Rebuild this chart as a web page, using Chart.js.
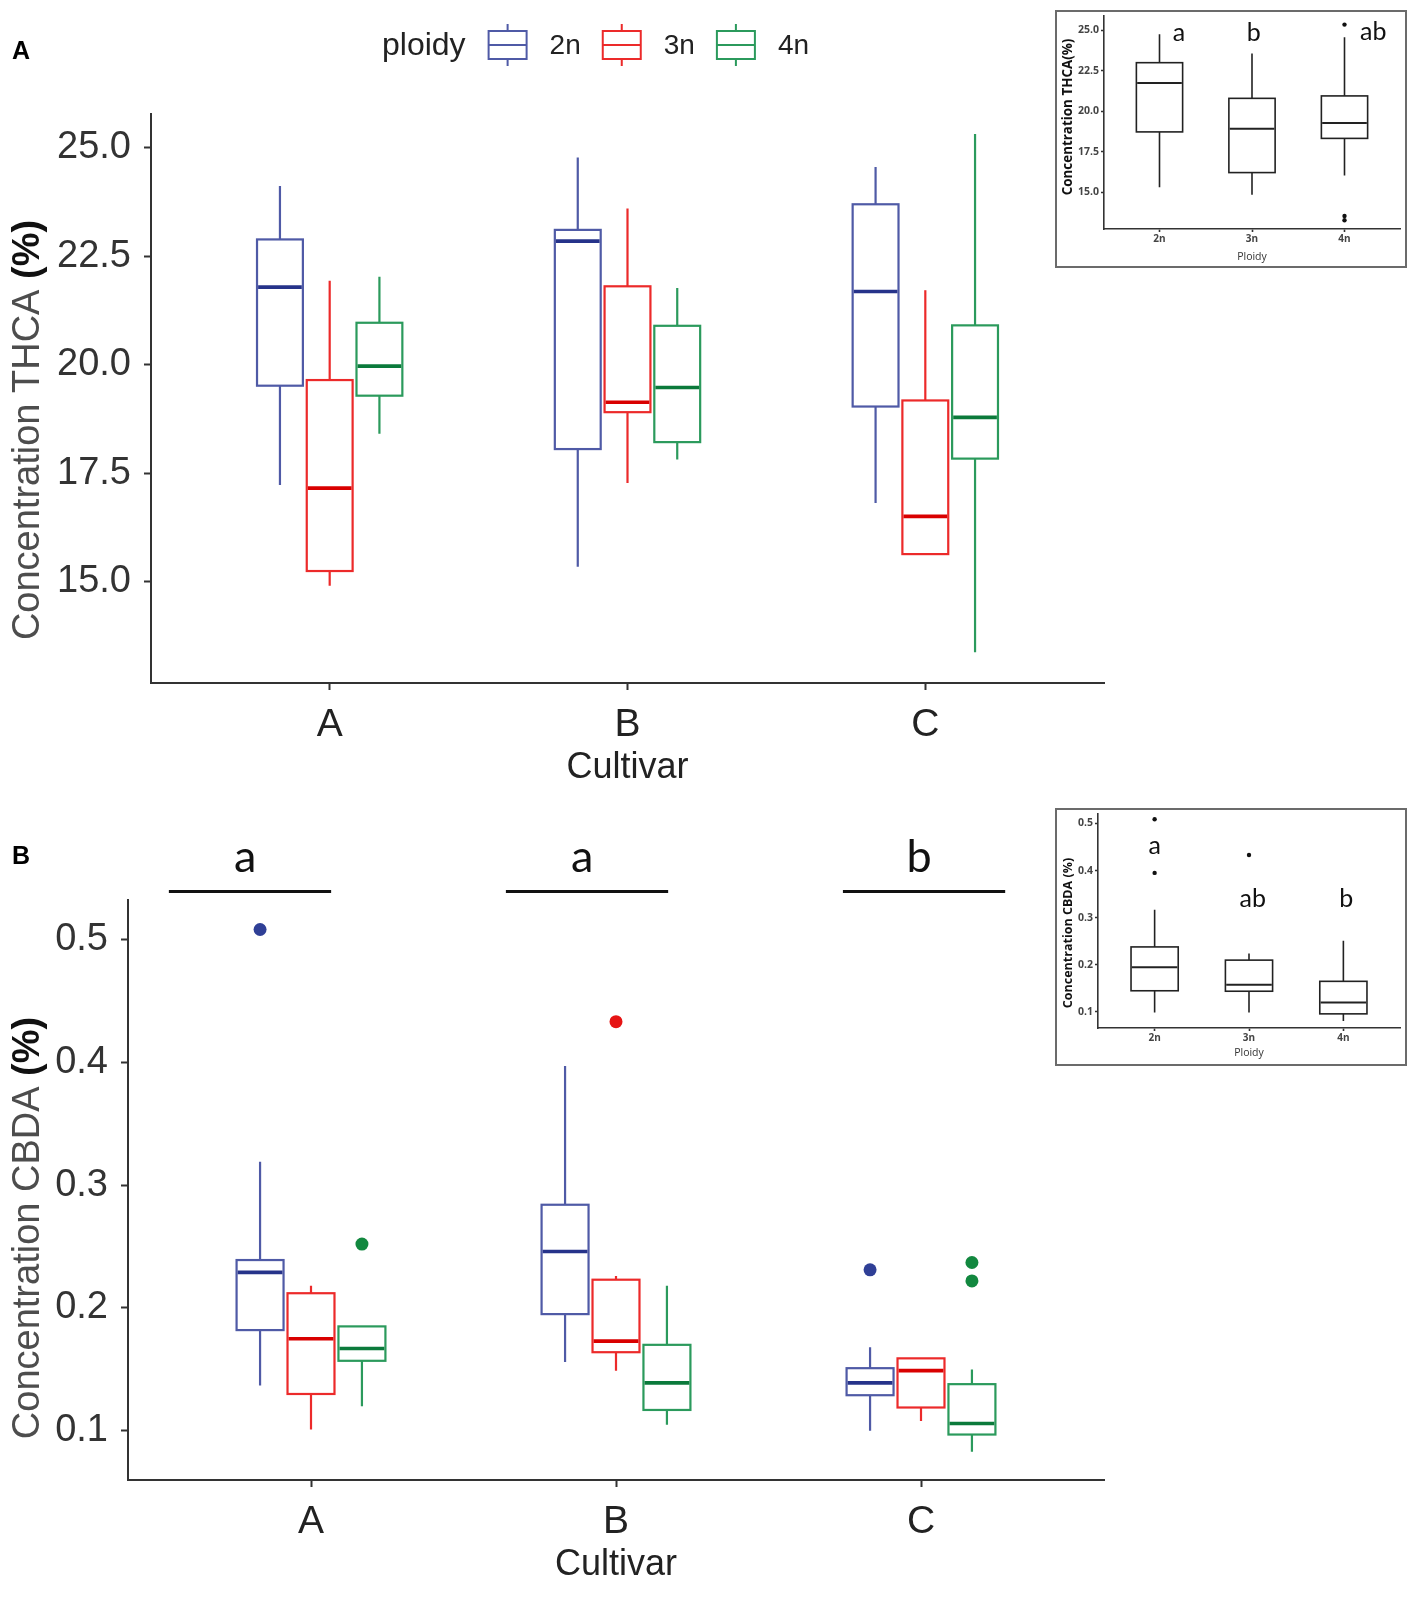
<!DOCTYPE html>
<html>
<head>
<meta charset="utf-8">
<script src="https://cdn.jsdelivr.net/npm/chart.js@4.4.0/dist/chart.umd.min.js"></script>
<style>
    body { margin: 0; background: #fff; width: 1417px; height: 1599px; position: relative; overflow: hidden; }
    canvas { position: absolute; }
    .inset { position: absolute; border: 2px solid #6b6b6b; background: #fff; }
</style>
</head>
<body>
<canvas id="thcaChart" width="1122" height="805" style="left:0;top:0"></canvas>
<canvas id="cbdaChart" width="1122" height="794" style="left:0;top:805px"></canvas>
<div class="inset" style="left:1055px;top:10px;width:348px;height:254px"><canvas id="thcaInset" width="348" height="254" style="left:0;top:0"></canvas></div>
<div class="inset" style="left:1055px;top:808px;width:348px;height:254px"><canvas id="cbdaInset" width="348" height="254" style="left:0;top:0"></canvas></div>
<script>
const cultivars = ['A', 'B', 'C'];
const ploidyLevels = ['2n', '3n', '4n'];
const thcaTicks = [15, 17.5, 20, 22.5, 25];
const cbdaTicks = [0.1, 0.2, 0.3, 0.4, 0.5];

// [lower whisker, Q1, median, Q3, upper whisker] for cultivar A, B, C
const thca2n = [[17.23, 19.52, 21.79, 22.89, 24.12], [15.35, 18.06, 22.85, 23.11, 24.78], [16.82, 19.04, 21.69, 23.70, 24.56]];
const thca3n = [[14.91, 15.25, 17.16, 19.65, 21.94], [17.28, 18.91, 19.14, 21.81, 23.60], [15.64, 15.64, 16.51, 19.18, 21.72]];
const thca4n = [[18.41, 19.29, 19.97, 20.97, 22.03], [17.82, 18.22, 19.48, 20.90, 21.77], [13.38, 17.84, 18.79, 20.91, 25.32]];

const cbda2n = [[0.137, 0.182, 0.229, 0.239, 0.319], [0.156, 0.195, 0.246, 0.284, 0.397], [0.100, 0.129, 0.139, 0.151, 0.168]];
const cbda3n = [[0.101, 0.130, 0.175, 0.212, 0.218], [0.149, 0.164, 0.173, 0.223, 0.226], [0.108, 0.119, 0.149, 0.159, 0.159]];
const cbda4n = [[0.120, 0.157, 0.167, 0.185, 0.185], [0.105, 0.117, 0.139, 0.170, 0.218], [0.083, 0.097, 0.106, 0.138, 0.150]];
// outliers, per cultivar
const cbdaOut2n = [[0.508], [], [0.231]];
const cbdaOut3n = [[], [0.433], []];
const cbdaOut4n = [[0.252], [], [0.237, 0.222]];
const cbdaLetters = ['a', 'a', 'b'];

// insets: pooled by ploidy
const thcaPooled = [[15.30, 18.72, 21.74, 22.99, 24.74], [14.84, 16.21, 18.92, 20.79, 23.55], [16.03, 18.32, 19.27, 20.94, 24.56]];
const thcaPooledOut = [[], [], [25.34, 13.53, 13.27]];
const thcaPooledLetters = ['a', 'b', 'ab'];
const cbdaPooled = [[0.099, 0.145, 0.195, 0.238, 0.317], [0.099, 0.144, 0.158, 0.210, 0.224], [0.081, 0.096, 0.120, 0.165, 0.251]];
const cbdaPooledOut = [[0.509, 0.395], [0.433], []];
const cbdaPooledLetters = ['a', 'ab', 'b'];

const boxColors = ['#4f5aa6', '#ec2a2a', '#2b9a5c'];
const medianColors = ['#26338a', '#d90000', '#0b7a3b'];
const pointColors = ['#2f3f96', '#e61414', '#12883f'];
const SANS = '"Liberation Sans", Arial, sans-serif';
const OPEN = '"Open Sans", sans-serif';
const DODGE = [-0.167, 0, 0.167];

// draws whiskers, boxes and medians through the chart scales
const boxPlugin = {
    id: 'boxes',
    beforeDatasetsDraw(chart, args, o) {
        const { ctx, scales: { x, y } } = chart;
        o.series.forEach((stats, s) => {
            stats.forEach((st, i) => {
                const pos = i + 1 + o.dodge[s];
                const cx = x.getPixelForValue(pos);
                const left = x.getPixelForValue(pos - o.half);
                const right = x.getPixelForValue(pos + o.half);
                const [lo, q1, med, q3, hi] = st.map(v => y.getPixelForValue(v));
                ctx.save();
                ctx.strokeStyle = o.colors[s];
                ctx.lineWidth = o.lw;
                ctx.beginPath();
                ctx.moveTo(cx, hi); ctx.lineTo(cx, q3);
                ctx.moveTo(cx, q1); ctx.lineTo(cx, lo);
                ctx.stroke();
                ctx.fillStyle = '#fff';
                ctx.fillRect(left, q3, right - left, q1 - q3);
                ctx.strokeRect(left, q3, right - left, q1 - q3);
                ctx.strokeStyle = o.medianColors[s];
                ctx.lineWidth = o.mw;
                ctx.beginPath();
                ctx.moveTo(left + o.lw / 2, med); ctx.lineTo(right - o.lw / 2, med);
                ctx.stroke();
                ctx.restore();
            });
        });
    }
};

function rotatedText(ctx, parts, x, yc) {
    ctx.save();
    ctx.translate(x, yc);
    ctx.rotate(-Math.PI / 2);
    ctx.textBaseline = 'middle';
    ctx.textAlign = 'left';
    let total = 0;
    parts.forEach(p => { ctx.font = p.font; p.w = ctx.measureText(p.text).width; total += p.w; });
    let cx = -total / 2;
    parts.forEach(p => { ctx.font = p.font; ctx.fillStyle = p.color; ctx.fillText(p.text, cx, 0); cx += p.w; });
    ctx.restore();
}

function text(ctx, str, x, y, font, color, align) {
    ctx.save();
    ctx.font = font;
    ctx.fillStyle = color;
    ctx.textAlign = align || 'center';
    ctx.textBaseline = 'middle';
    ctx.fillText(str, x, y);
    ctx.restore();
}

function outlierData(out, dodge) {
    return out.flatMap((vals, i) => vals.map(v => ({ x: i + 1 + dodge, y: v })));
}

function axisOpts(labels, font, color, tickLen, pad, lineW, size, isX) {
    return {
        type: 'linear',
        afterBuildTicks: axis => { axis.ticks = labels.map(v => ({ value: v })); },
        ticks: {
            font: font, color: color, padding: pad, autoSkip: false, maxRotation: 0,
            callback: isX ? (v => (isX[v - 1])) : (v => Number(v).toFixed(1))
        },
        grid: { drawOnChartArea: false, drawTicks: true, tickLength: tickLen, tickWidth: lineW, tickColor: '#333' },
        border: { display: true, color: '#333', width: lineW },
        afterFit: s => {
            if (isX) { s.height = size; s.paddingLeft = 0; s.paddingRight = 0; }
            else { s.width = size; s.paddingTop = 0; s.paddingBottom = 0; }
        }
    };
}

function mainChart(id, series, outliers, yTicks, yMin, yMax, pad, yWidth, xHeight, deco) {
    const datasets = outliers.map((out, s) => ({
        data: outlierData(out, DODGE[s]),
        pointRadius: 6.5, pointHoverRadius: 6.5,
        backgroundColor: pointColors[s], borderWidth: 0
    }));
    const yAxis = axisOpts(yTicks, { family: SANS, size: 38 }, '#333', 7, 13, 2, yWidth, null);
    yAxis.min = yMin; yAxis.max = yMax;
    const xAxis = axisOpts([1, 2, 3], { family: SANS, size: 39 }, '#222', 7, 12, 2, xHeight, cultivars);
    xAxis.min = 0.4; xAxis.max = 3.6;
    return new Chart(document.getElementById(id), {
        type: 'scatter',
        data: { datasets },
        options: {
            responsive: false, animation: false, devicePixelRatio: 1,
            layout: { padding: pad },
            plugins: {
                legend: { display: false }, tooltip: { enabled: false },
                boxes: { series, dodge: DODGE, half: 0.077, colors: boxColors, medianColors, lw: 2.2, mw: 3.6 }
            },
            scales: { x: xAxis, y: yAxis }
        },
        plugins: [boxPlugin, { id: 'deco', afterDraw: deco }]
    });
}

function insetChart(id, series, outliers, yTicks, yMin, yMax, pad, yWidth, xHeight, deco) {
    const datasets = [{
        data: outlierData(outliers, 0),
        pointRadius: 2.2, backgroundColor: '#111', borderWidth: 0
    }];
    const tickFont = { family: OPEN, size: 10.5, weight: 'bold' };
    const yAxis = axisOpts(yTicks, tickFont, '#444', 3, 2, 1.6, yWidth, null);
    yAxis.min = yMin; yAxis.max = yMax;
    const xAxis = axisOpts([1, 2, 3], { family: OPEN, size: 10, weight: 'bold' }, '#444', 3, 1, 1.6, xHeight, ploidyLevels);
    xAxis.min = 0.4; xAxis.max = 3.6;
    return new Chart(document.getElementById(id), {
        type: 'scatter',
        data: { datasets },
        options: {
            responsive: false, animation: false, devicePixelRatio: 1,
            layout: { padding: pad },
            plugins: {
                legend: { display: false }, tooltip: { enabled: false },
                boxes: { series: series.map(st => [st]), dodge: [0, 1, 2], half: 0.25,
                    colors: ['#222', '#222', '#222'], medianColors: ['#222', '#222', '#222'], lw: 1.6, mw: 2 }
            },
            scales: { x: xAxis, y: yAxis }
        },
        plugins: [boxPlugin, { id: 'deco', afterDraw: deco }]
    });
}

// Panel A
mainChart('thcaChart', [thca2n, thca3n, thca4n], [[], [], []], thcaTicks, 12.67, 25.78,
    { top: 114, right: 18, left: 0, bottom: 0 }, 151, 122, chart => {
        const ctx = chart.ctx;
        text(ctx, 'A', 12, 52, 'bold 25px ' + SANS, '#000', 'left');
        rotatedText(ctx, [
            { text: 'Concentration THCA ', font: '38px ' + SANS, color: '#4d4d4d' },
            { text: '(%)', font: 'bold 38px ' + SANS, color: '#111' }
        ], 29, 430);
        text(ctx, 'Cultivar', chart.scales.x.getPixelForValue(2), 768, '36px ' + SANS, '#222');
        // legend
        let lx = 382;
        ctx.save();
        ctx.font = '32px ' + SANS;
        text(ctx, 'ploidy', lx, 46, '32px ' + SANS, '#222', 'left');
        lx += ctx.measureText('ploidy').width + 23;
        ploidyLevels.forEach((p, s) => {
            ctx.strokeStyle = boxColors[s];
            ctx.lineWidth = 2;
            ctx.beginPath();
            ctx.moveTo(lx + 19, 24); ctx.lineTo(lx + 19, 31);
            ctx.moveTo(lx + 19, 59); ctx.lineTo(lx + 19, 66);
            ctx.stroke();
            ctx.strokeRect(lx, 31, 38, 28);
            ctx.beginPath(); ctx.moveTo(lx, 45); ctx.lineTo(lx + 38, 45); ctx.stroke();
            lx += 38 + 23;
            text(ctx, p, lx, 46, '28px ' + SANS, '#222', 'left');
            ctx.font = '28px ' + SANS;
            lx += ctx.measureText(p).width + 22;
        });
        ctx.restore();
    });

// Panel B
mainChart('cbdaChart', [cbda2n, cbda3n, cbda4n], [cbdaOut2n, cbdaOut3n, cbdaOut4n], cbdaTicks, 0.06, 0.532,
    { top: 95, right: 18, left: 0, bottom: 0 }, 128, 119, chart => {
        const ctx = chart.ctx;
        const { x, y } = chart.scales;
        text(ctx, 'B', 12, 52, 'bold 25px ' + SANS, '#000', 'left');
        rotatedText(ctx, [
            { text: 'Concentration CBDA ', font: '38px ' + SANS, color: '#4d4d4d' },
            { text: '(%)', font: 'bold 38px ' + SANS, color: '#111' }
        ], 29, 423);
        text(ctx, 'Cultivar', x.getPixelForValue(2), 760, '36px ' + SANS, '#222');
        // significance groups above each cultivar
        const centers = [0.80, 1.905, 3.01];
        cbdaLetters.forEach((l, i) => {
            const c = centers[i];
            ctx.save();
            ctx.strokeStyle = '#111';
            ctx.lineWidth = 3;
            ctx.beginPath();
            ctx.moveTo(x.getPixelForValue(c - 0.266), y.getPixelForValue(0.539));
            ctx.lineTo(x.getPixelForValue(c + 0.266), y.getPixelForValue(0.539));
            ctx.stroke();
            ctx.restore();
            text(ctx, l, x.getPixelForValue(c - 0.016), y.getPixelForValue(0.567), '45px Lato, sans-serif', '#111');
        });
    });

// Insets
insetChart('thcaInset', thcaPooled, thcaPooledOut, thcaTicks, 12.73, 25.87,
    { top: 1, right: 5, left: 0, bottom: 0 }, 47, 37, chart => {
        const ctx = chart.ctx;
        const { x, y } = chart.scales;
        rotatedText(ctx, [{ text: 'Concentration THCA(%)', font: 'bold 13.4px ' + OPEN, color: '#111' }], 11, 105);
        text(ctx, 'Ploidy', x.getPixelForValue(2), 245, '10.5px ' + OPEN, '#333');
        const lpos = [[1.21, 24.8], [2.02, 24.8], [3.31, 24.9]];
        thcaPooledLetters.forEach((l, i) => {
            text(ctx, l, x.getPixelForValue(lpos[i][0]), y.getPixelForValue(lpos[i][1]), '25px Lato, sans-serif', '#111');
        });
    });

insetChart('cbdaInset', cbdaPooled, cbdaPooledOut, cbdaTicks, 0.066, 0.52,
    { top: 0, right: 5, left: 0, bottom: 0 }, 41, 36, chart => {
        const ctx = chart.ctx;
        const { x, y } = chart.scales;
        rotatedText(ctx, [{ text: 'Concentration CBDA (%)', font: 'bold 12.5px ' + OPEN, color: '#111' }], 11, 123);
        text(ctx, 'Ploidy', x.getPixelForValue(2), 243, '10.5px ' + OPEN, '#333');
        const lpos = [[1.0, 0.453], [2.04, 0.339], [3.03, 0.339]];
        cbdaPooledLetters.forEach((l, i) => {
            text(ctx, l, x.getPixelForValue(lpos[i][0]), y.getPixelForValue(lpos[i][1]), '25px Lato, sans-serif', '#111');
        });
    });
</script>
</body>
</html>
